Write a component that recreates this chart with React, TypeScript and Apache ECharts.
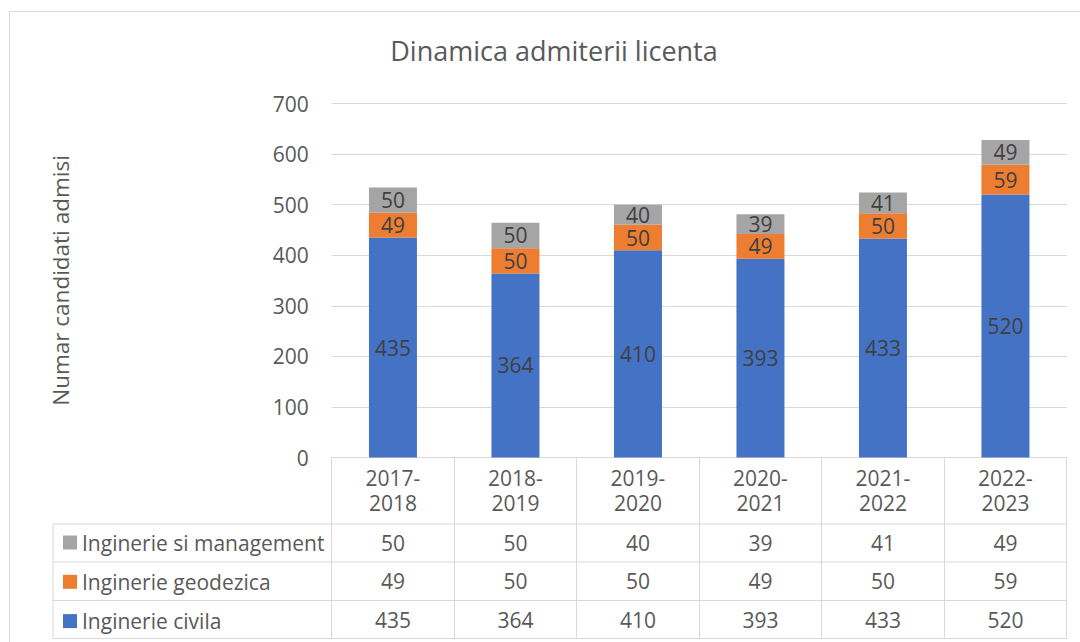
import React, { useEffect, useRef } from "react";
import * as echarts from "echarts";

const categories = ["2017-2018", "2018-2019", "2019-2020", "2020-2021", "2021-2022", "2022-2023"];
const civila = [435, 364, 410, 393, 433, 520];
const geodezica = [49, 50, 50, 49, 50, 59];
const management = [50, 50, 40, 39, 41, 49];
const seriesNames = ["Inginerie civila", "Inginerie geodezica", "Inginerie si management"];
const colors = ["#4472C4", "#ED7D31", "#A5A5A5"];
const yTicks = { min: 0, max: 700, interval: 100 };

const FONT = "'Open Sans', sans-serif";
const TXT = "#595959";
const GRID = "#d9d9d9";
const FS = 21;

export default function App() {
  const ref = useRef<HTMLDivElement>(null);
  useEffect(() => {
    if (!ref.current) return;
    const chart = echarts.init(ref.current, undefined, { renderer: "svg" });
    const plotTop = 103.5;
    const plotBottom = 457.5;
    const plotLeft = 331.7;
    const plotRight = 1066.7;
    const tableLeft = 53;
    const rowLines = [524, 562, 600.5, 638.5];
    const rowCenters = [543, 581.2, 619.5];
    const tableRows = [management, geodezica, civila];

    const valueAxis = (arr: number[], i: number) => ({
      type: "category",
      gridIndex: 0,
      position: "bottom",
      offset: rowCenters[i] - plotBottom,
      data: categories,
      axisLine: { show: false },
      axisTick: { show: false },
      splitLine: { show: false },
      axisLabel: {
        interval: 0,
        margin: 0,
        verticalAlign: "middle",
        color: TXT,
        fontFamily: FONT,
        fontSize: FS,
        lineHeight: 22,
        formatter: (_v: string, idx: number) => String(arr[idx]),
      },
    });

    const seriesData = [civila, geodezica, management];

    chart.setOption({
      animation: false,
      backgroundColor: "#ffffff",
      title: {
        text: "Dinamica admiterii licenta",
        left: 549,
        top: 32,
        textAlign: "center",
        textStyle: { color: TXT, fontFamily: FONT, fontSize: 27, fontWeight: "normal" },
      },
      grid: {
        left: plotLeft,
        right: 1080 - plotRight,
        top: plotTop,
        bottom: 642 - plotBottom,
        containLabel: false,
      },
      legend: {
        orient: "vertical",
        left: 63,
        top: 532,
        itemGap: 18.3,
        itemWidth: 14,
        itemHeight: 14,
        icon: "rect",
        selectedMode: false,
        padding: 0,
        data: ["Inginerie si management", "Inginerie geodezica", "Inginerie civila"],
        textStyle: { color: TXT, fontFamily: FONT, fontSize: FS, lineHeight: 20 },
      },
      xAxis: [
        {
          type: "category",
          gridIndex: 0,
          data: categories,
          axisLine: { show: true, lineStyle: { color: GRID, width: 1 } },
          axisTick: { show: true, length: rowLines[3] - plotBottom, lineStyle: { color: GRID, width: 1 } },
          axisLabel: {
            interval: 0,
            margin: 33,
            verticalAlign: "middle",
            lineHeight: 25,
            color: TXT,
            fontFamily: FONT,
            fontSize: FS,
            formatter: (v: string) => v.replace("-", "-\n"),
          },
        },
        ...tableRows.map((arr, i) => valueAxis(arr, i)),
      ],
      yAxis: {
        type: "value",
        min: yTicks.min,
        max: yTicks.max,
        interval: yTicks.interval,
        name: "Numar candidati admisi",
        nameLocation: "middle",
        nameRotate: 90,
        nameGap: 260,
        nameTextStyle: { color: TXT, fontFamily: FONT, fontSize: 22.5 },
        axisLine: { show: false },
        axisTick: { show: false },
        splitLine: { lineStyle: { color: GRID, width: 1 } },
        axisLabel: { color: TXT, fontFamily: FONT, fontSize: FS, margin: 23 },
      },
      series: seriesNames.map((name, i) => ({
        name,
        type: "bar",
        stack: "total",
        xAxisIndex: 0,
        barWidth: 48,
        data: seriesData[i],
        itemStyle: { color: colors[i] },
        label: {
          show: true,
          position: "inside",
          color: "#404040",
          fontFamily: FONT,
          fontSize: FS,
          lineHeight: 16,
        },
      })),
      graphic: [
        {
          type: "rect",
          shape: { x: 9.5, y: 11.5, width: 1200, height: 800 },
          style: { fill: "none", stroke: GRID, lineWidth: 1 },
          silent: true,
        },
        ...rowLines.map((y) => ({
          type: "line",
          shape: { x1: tableLeft, y1: y, x2: plotRight, y2: y },
          style: { stroke: GRID, lineWidth: 1 },
          silent: true,
        })),
        {
          type: "line",
          shape: { x1: tableLeft, y1: rowLines[0], x2: tableLeft, y2: rowLines[3] },
          style: { stroke: GRID, lineWidth: 1 },
          silent: true,
        },
      ],
    });
    return () => chart.dispose();
  }, []);
  return (
    <div
      ref={ref}
      style={{ position: "absolute", left: 0, top: 0, width: 1080, height: 642, background: "#fff" }}
    />
  );
}
